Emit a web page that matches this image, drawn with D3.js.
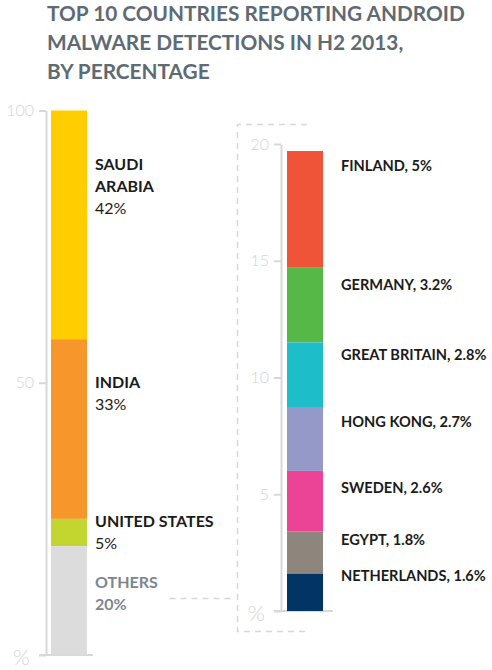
<!DOCTYPE html>
<html>
<head>
<meta charset="utf-8">
<script src="https://cdn.jsdelivr.net/npm/d3@7"></script>
<style>
  body { margin: 0; background: #fff; }
  text { font-family: Lato, "Open Sans", sans-serif; }
</style>
</head>
<body>
<svg id="chart"></svg>
<script>
// --------------------
//  data
// --------------------
const titleLines = ["TOP 10 COUNTRIES REPORTING ANDROID", "MALWARE DETECTIONS IN H2 2013,", "BY PERCENTAGE"];

// left bar, listed top to bottom
const mainCountries = ["SAUDI\nARABIA", "INDIA", "UNITED STATES", "OTHERS"];
const mainValues = [42, 33, 5, 20];
const mainColors = ["#ffcd00", "#f7972b", "#c3d62f", "#dcdcdd"];
const mainTicks = [0, 50, 100];

// right bar ("others" broken down), listed top to bottom
const otherCountries = ["FINLAND", "GERMANY", "GREAT BRITAIN", "HONG KONG", "SWEDEN", "EGYPT", "NETHERLANDS"];
const otherValues = [5, 3.2, 2.8, 2.7, 2.6, 1.8, 1.6];
const otherColors = ["#f05438", "#56b847", "#1dbdca", "#9499c8", "#eb4497", "#8e857c", "#033466"];
const otherTicks = [0, 5, 10, 15, 20];

// --------------------
//  layout
// --------------------
const width = 492;
const height = 670;
const gridColor = "#d8d8d8";
const tickColor = "#d4d4d4";

// label nudges (px below each segment top)
const mainLabelDy = [59, 49, 8, 42];
const otherLabelDy = [20, 22, 18, 19, 22, 13, 7];

const svg = d3.select("#chart")
    .attr("width", width)
    .attr("height", height);

// title
svg.append("g")
    .selectAll("text")
    .data(titleLines)
    .join("text")
    .attr("x", 47)
    .attr("y", (d, i) => 21 + i * 29)
    .attr("font-size", "20.8px")
    .attr("font-weight", 700)
    .attr("fill", "#5e6a74")
    .text(d => d);

// stack from the bottom up
function stackFromBottom(values) {
    let acc = 0;
    const out = [];
    for (let i = values.length - 1; i >= 0; i--) {
        out[i] = { y0: acc, y1: acc + values[i] };
        acc += values[i];
    }
    return out;
}

function drawBar(opts) {
    const { names, values, colors, ticks, yScale, axisX, barX, barW, baseEnd, labelX, labelDy, split } = opts;
    const g = svg.append("g");
    const stacked = stackFromBottom(values);

    // axis
    const axis = d3.axisLeft(yScale)
        .tickValues(ticks)
        .tickFormat(d => d === 0 ? "%" : d)
        .tickSize(7)
        .tickSizeOuter(0)
        .tickPadding(5);
    const ag = g.append("g")
        .attr("transform", `translate(${axisX},0)`)
        .call(axis);
    ag.select(".domain").attr("stroke", gridColor).attr("stroke-width", 2);
    ag.selectAll(".tick line").attr("stroke", gridColor).attr("stroke-width", 2);
    ag.selectAll(".tick text")
        .attr("fill", tickColor)
        .attr("font-family", "Lato")
        .attr("font-weight", 300)
        .attr("font-size", d => d === 0 ? "22px" : "16px")
        .attr("dx", d => d === 0 ? -4 : 0)
        .attr("dy", d => d === 0 ? "0.42em" : "0.32em");

    // baseline under the bar
    g.append("line")
        .attr("x1", axisX - 7)
        .attr("x2", baseEnd)
        .attr("y1", yScale(0))
        .attr("y2", yScale(0))
        .attr("stroke", gridColor)
        .attr("stroke-width", 2);

    // segments
    g.selectAll("rect.seg")
        .data(stacked)
        .join("rect")
        .attr("class", "seg")
        .attr("x", barX)
        .attr("width", barW)
        .attr("y", d => yScale(d.y1))
        .attr("height", d => yScale(d.y0) - yScale(d.y1))
        .attr("fill", (d, i) => colors[i]);

    // labels
    const lab = g.selectAll("text.lab")
        .data(stacked)
        .join("text")
        .attr("class", "lab")
        .attr("x", labelX)
        .attr("y", (d, i) => yScale(d.y1) + labelDy[i]);

    lab.each(function(d, i) {
        const t = d3.select(this);
        if (split) {
            const isOther = names[i] === "OTHERS";
            const fill = isOther ? "#7c868f" : "#1b1b1b";
            const lines = names[i].split("\n");
            lines.forEach((ln, k) => {
                t.append("tspan")
                    .attr("x", labelX)
                    .attr("dy", k === 0 ? 0 : 22)
                    .attr("font-weight", 700)
                    .attr("fill", fill)
                    .text(ln);
            });
            t.append("tspan")
                .attr("x", labelX)
                .attr("dy", 22)
                .attr("font-weight", isOther ? 700 : 400)
                .attr("fill", fill)
                .text(values[i] + "%");
        } else {
            t.append("tspan")
                .attr("font-weight", 700)
                .attr("fill", "#1b1b1b")
                .text(names[i] + ", " + values[i] + "%");
        }
    });
    lab.attr("font-size", split ? "16px" : "14.6px");
}

// left bar
const yMain = d3.scaleLinear().domain([0, 100]).range([655, 110.5]);
drawBar({
    names: mainCountries, values: mainValues, colors: mainColors, ticks: mainTicks,
    yScale: yMain, axisX: 46, barX: 51, barW: 36, baseEnd: 93,
    labelX: 95, labelDy: mainLabelDy, split: true
});

// right bar
const yOther = d3.scaleLinear().domain([0, 20]).range([611, 144]);
drawBar({
    names: otherCountries, values: otherValues, colors: otherColors, ticks: otherTicks,
    yScale: yOther, axisX: 281, barX: 287, barW: 36, baseEnd: 333,
    labelX: 341, labelDy: otherLabelDy, split: false
});

// dashed bracket linking "others" to the breakdown
svg.append("path")
    .attr("d", "M307,124.5 H237.5 V631.5 H308")
    .attr("fill", "none")
    .attr("stroke", gridColor)
    .attr("stroke-width", 1.5)
    .attr("stroke-dasharray", "6,5");
svg.append("path")
    .attr("d", "M169.5,598.5 H232")
    .attr("fill", "none")
    .attr("stroke", gridColor)
    .attr("stroke-width", 1.5)
    .attr("stroke-dasharray", "6,5");
</script>
</body>
</html>
